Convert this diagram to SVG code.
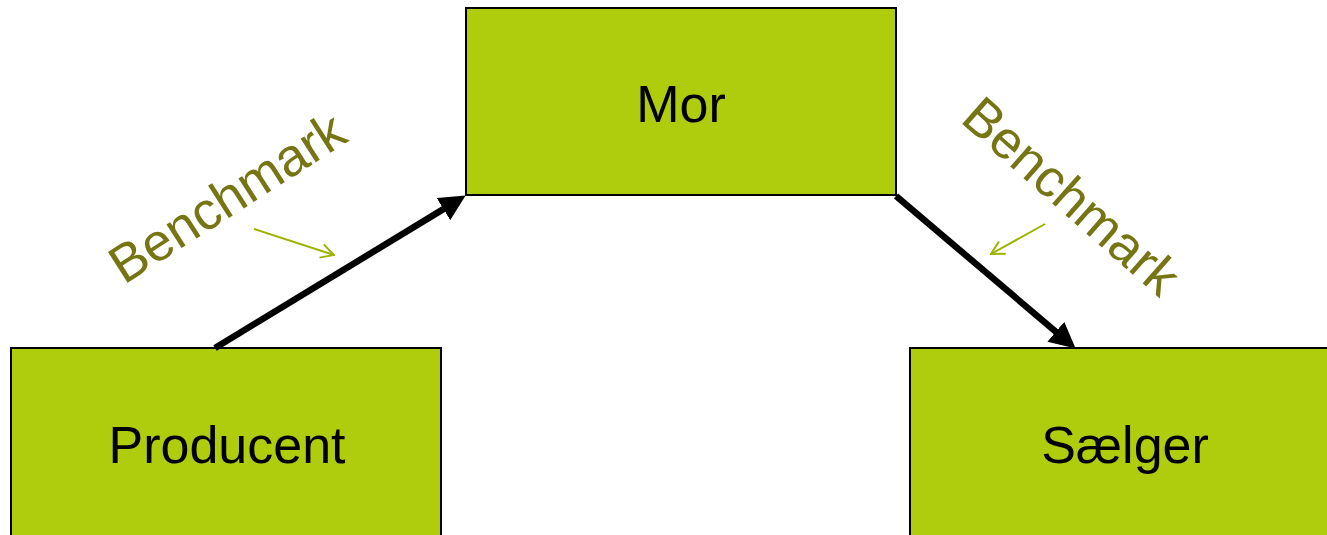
<svg xmlns="http://www.w3.org/2000/svg" width="1327" height="535" viewBox="0 0 1327 535">
<defs>
<style>
.box{fill:#AFCC0D;stroke:#000;stroke-width:2}
.lbl{font-family:"Liberation Sans",Arial,sans-serif;font-size:52px;fill:#000;text-anchor:middle}
.bm{font-family:"Liberation Sans",Arial,sans-serif;font-size:53px;fill:#757613}
.main{stroke:#000;stroke-width:6.5;fill:none}
.hint{stroke:#9DB300;stroke-width:2;fill:none}
</style>
<marker id="bigHead" viewBox="0 0 10 10" refX="7" refY="5" markerWidth="4" markerHeight="4" orient="auto" markerUnits="strokeWidth">
<path d="M0,0 L10,5 L0,10 z" fill="#000"/>
</marker>
<marker id="openHead" viewBox="0 0 16 16" refX="15" refY="8" markerWidth="16" markerHeight="16" orient="auto" markerUnits="userSpaceOnUse">
<path d="M2,1 L15,8 L2,15" fill="none" stroke="#9DB300" stroke-width="2"/>
</marker>
</defs>
<g id="node-mor">
<rect class="box" x="466" y="8" width="430" height="187"/>
<text class="lbl" x="681" y="122">Mor</text>
</g>
<g id="node-producent">
<rect class="box" x="11" y="348" width="430" height="200"/>
<text class="lbl" x="227" y="463">Producent</text>
</g>
<g id="node-saelger">
<rect class="box" x="910" y="348" width="430" height="200"/>
<text class="lbl" x="1125" y="463">Sælger</text>
</g>
<g id="connectors">
<line class="main" x1="215" y1="348" x2="459" y2="199.6" marker-end="url(#bigHead)"/>
<line class="main" x1="896" y1="196" x2="1069.7" y2="343.5" marker-end="url(#bigHead)"/>
<line class="hint" x1="254" y1="229" x2="334" y2="255" marker-end="url(#openHead)"/>
<line class="hint" x1="1045" y1="224" x2="991" y2="254" marker-end="url(#openHead)"/>
</g>
<g id="labels">
<text class="bm" transform="translate(124,285) rotate(-32.6)">Benchmark</text>
<text class="bm" transform="translate(959,121) rotate(41.5)">Benchmark</text>
</g>
</svg>
